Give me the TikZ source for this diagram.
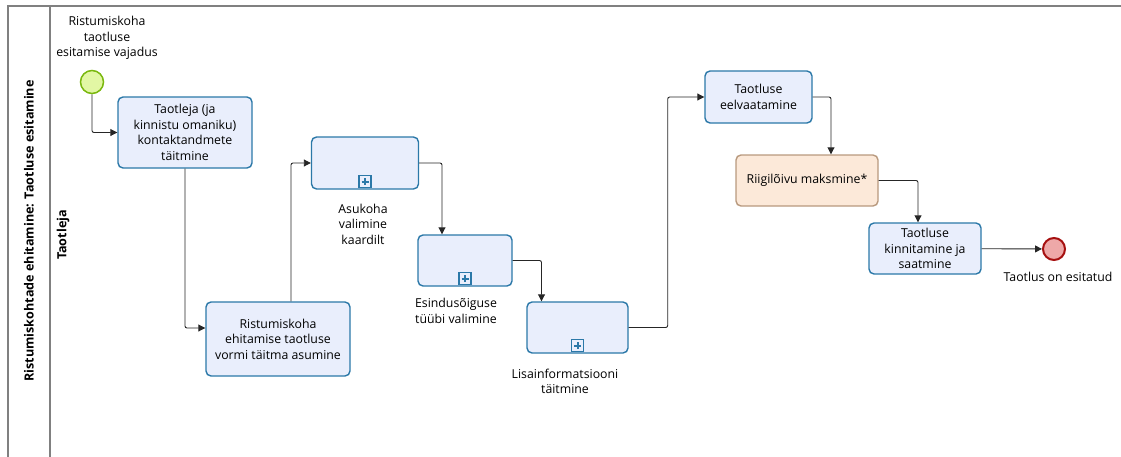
\documentclass[tikz,border=0pt]{standalone}
\usepackage{fontspec}
\setmainfont{Open Sans}
\usepackage{tikz}
\usetikzlibrary{arrows.meta,shapes}
\definecolor{taskfill}{HTML}{E9EEFC}
\definecolor{taskline}{HTML}{2B78A8}
\definecolor{feefill}{HTML}{FCE9D9}
\definecolor{feeline}{HTML}{B8997E}
\definecolor{startfill}{HTML}{E2F7A4}
\definecolor{startline}{HTML}{7AB80E}
\definecolor{endfill}{HTML}{EEA8A8}
\definecolor{endline}{HTML}{A61010}

\begin{document}
\begin{tikzpicture}[>={Triangle[length=7bp,width=7bp]},
  every node/.style={font=\fontsize{12.3bp}{15.5bp}\selectfont,align=center,inner sep=0pt},
  task/.style={draw=taskline,fill=taskfill,line width=1.4bp,rounded corners=5bp},
  plusbox/.style={draw=taskline,line width=1.2bp,minimum size=12bp,
    path picture={\draw[taskline,line width=2bp] ([xshift=-3.5bp]path picture bounding box.center) -- ([xshift=3.5bp]path picture bounding box.center);
                  \draw[taskline,line width=2bp] ([yshift=-3.5bp]path picture bounding box.center) -- ([yshift=3.5bp]path picture bounding box.center);}},
  flow/.style={->,line width=0.9bp,black!85,rounded corners=2bp},
  pool/.style={draw=black!50,line width=1.2bp},
  title/.style={rotate=90,font=\fontsize{12.6bp}{15.5bp}\selectfont\bfseries}]

\useasboundingbox (0bp,0bp) rectangle (1121bp,-457bp);

% pool and lane
\draw [pool] (8bp,-457bp) -- (8bp,-6bp) -- (1121bp,-6bp);
\draw [pool] (50bp,-6bp) -- (50bp,-457bp);
\node (pool) at (29bp,-231bp)[title] {Ristumiskohtade ehitamine: Taotluse esitamine};
\node (lane) at (63bp,-235bp)[title] {Taotleja};

% events
\node (start) at (92bp,-82bp)[draw=startline,fill=startfill,line width=1.5bp,circle,minimum size=23bp] {};
\node (startlbl) at (107bp,-38bp) {Ristumiskoha\\taotluse\\esitamise vajadus};
\node (end) at (1054bp,-249bp)[draw=endline,fill=endfill,line width=2bp,circle,minimum size=22bp] {};
\node (endlbl) at (1058bp,-277bp) {Taotlus on esitatud};

% tasks
\node (contact) at (185bp,-132.5bp)[task,minimum width=134bp,minimum height=71bp] {Taotleja (ja\\kinnistu omaniku)\\kontaktandmete\\täitmine};
\node (form) at (278bp,-339bp)[task,minimum width=144bp,minimum height=74bp] {Ristumiskoha\\ehitamise taotluse\\vormi täitma asumine};
\node (place) at (365bp,-163bp)[task,minimum width=107bp,minimum height=52bp] {};
\node (placem) at ([yshift=8bp]place.south)[plusbox] {};
\node (placelbl) at (363bp,-224bp) {Asukoha\\valimine\\kaardilt};
\node (right) at (465bp,-260.5bp)[task,minimum width=94bp,minimum height=51bp] {};
\node (rightm) at ([yshift=8bp]right.south)[plusbox] {};
\node (rightlbl) at (456bp,-311bp) {Esindusõiguse\\tüübi valimine};
\node (extra) at (577.5bp,-327.5bp)[task,minimum width=101bp,minimum height=51bp] {};
\node (extram) at ([yshift=8bp]extra.south)[plusbox] {};
\node (extralbl) at (565bp,-381.5bp) {Lisainformatsiooni\\täitmine};
\node (preview) at (758.5bp,-97bp)[task,minimum width=107bp,minimum height=52bp] {Taotluse\\eelvaatamine};
\node (fee) at (807bp,-180.5bp)[task,draw=feeline,fill=feefill,minimum width=142bp,minimum height=51bp] {Riigilõivu maksmine*};
\node (confirm) at (925bp,-248.5bp)[task,minimum width=112bp,minimum height=51bp] {Taotluse\\kinnitamine ja\\saatmine};

% flows
\draw [flow] (start) |- (contact);
\draw [flow] (contact) |- ([yshift=11bp]form.west);
\draw [flow] ([xshift=13bp]form.north) |- (place);
\draw [flow] (place) -| ([xshift=-23bp]right.north);
\draw [flow] (right) -| ([xshift=-36bp]extra.north);
\draw [flow] (extra.east) -- ++(39bp,0bp) |- (preview.west);
\draw [flow] (preview) -| ([xshift=24bp]fee.north);
\draw [flow] (fee) -| ([xshift=-7bp]confirm.north);
\draw [flow] (confirm) -- (end);
\end{tikzpicture}
\end{document}
